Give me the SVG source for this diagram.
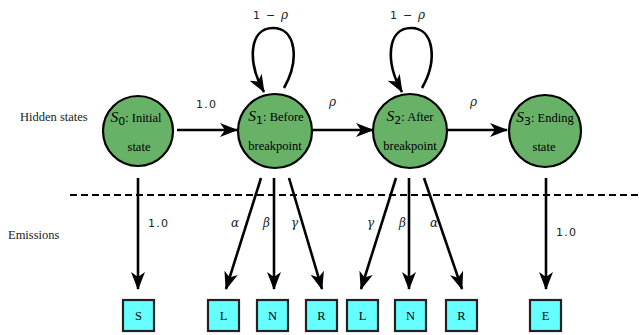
<svg xmlns="http://www.w3.org/2000/svg" width="639" height="335" viewBox="0 0 639 335">
<style>
.state{fill:#67b267;stroke:#000;stroke-width:2.2}
.emit{fill:#66ffff;stroke:#222;stroke-width:2.2}
.edge{fill:none;stroke:#000;stroke-width:2.6}
text{font-family:'Liberation Serif','Times New Roman',Times,serif}
.t{font-size:12.5px;fill:#000}
.lbl{font-size:12.5px;fill:#222}
.num{font-family:'DejaVu Sans',sans-serif;font-size:11px;fill:#222;letter-spacing:1.2px}
.gk{font-family:'DejaVu Serif',serif;font-style:italic;font-size:12px;fill:#222;letter-spacing:0}
.s{font-style:italic;font-size:15.5px}
.sub{font-family:'DejaVu Sans',sans-serif;font-size:11px}
</style>
<defs>
<marker id="ah" markerUnits="userSpaceOnUse" markerWidth="18" markerHeight="14" viewBox="0 0 18 14" refX="17" refY="7" orient="auto">
<path d="M0,0 L18,7 L0,14 L5,7 z" fill="#000"/>
</marker>
</defs>
<rect width="639" height="335" fill="#fff"/>
<text class="lbl" x="20" y="121">Hidden states</text>
<text class="lbl" x="8" y="239">Emissions</text>
<line x1="70" y1="195" x2="639" y2="195" stroke="#000" stroke-width="2" stroke-dasharray="7,4"/>
<g id="connectors">
<line class="edge" x1="177" y1="130" x2="237" y2="130" marker-end="url(#ah)"/>
<line class="edge" x1="313" y1="130" x2="373" y2="130" marker-end="url(#ah)"/>
<line class="edge" x1="448" y1="130" x2="507" y2="130" marker-end="url(#ah)"/>
<path class="edge" d="M284,88 C300,60 296,28 273,28 C249,28 247,62 264,92" marker-end="url(#ah)"/>
<path class="edge" d="M422,88 C438,60 434,28 411,28 C387,28 385,62 402,92" marker-end="url(#ah)"/>
<line class="edge" x1="138" y1="178" x2="138" y2="289" marker-end="url(#ah)"/>
<line class="edge" x1="261" y1="178" x2="226" y2="289" marker-end="url(#ah)"/>
<line class="edge" x1="274" y1="178" x2="274" y2="289" marker-end="url(#ah)"/>
<line class="edge" x1="289" y1="178" x2="322" y2="289" marker-end="url(#ah)"/>
<line class="edge" x1="396" y1="178" x2="361" y2="289" marker-end="url(#ah)"/>
<line class="edge" x1="409" y1="178" x2="409" y2="289" marker-end="url(#ah)"/>
<line class="edge" x1="424" y1="178" x2="462" y2="289" marker-end="url(#ah)"/>
<line class="edge" x1="546" y1="178" x2="546" y2="289" marker-end="url(#ah)"/>
<text class="num" x="196" y="108">1.0</text>
<text class="gk" x="329" y="106">ρ</text>
<text class="gk" x="470" y="106">ρ</text>
<text class="num" x="253" y="19">1 − <tspan class="gk">ρ</tspan></text>
<text class="num" x="390" y="19">1 − <tspan class="gk">ρ</tspan></text>
<text class="num" x="148" y="227">1.0</text>
<text class="num" x="556" y="236">1.0</text>
<text class="gk" x="231" y="227">α</text>
<text class="gk" x="263" y="227">β</text>
<text class="gk" x="291" y="227">γ</text>
<text class="gk" x="367" y="227">γ</text>
<text class="gk" x="399" y="227">β</text>
<text class="gk" x="430" y="227">α</text>
</g>
<g id="S0">
<circle class="state" cx="138" cy="131" r="35"/>
<text class="t" x="136" y="122" text-anchor="middle"><tspan class="s">S</tspan><tspan class="sub" dy="3">0</tspan><tspan dy="-3">: Initial</tspan></text>
<text class="t" x="139" y="151" text-anchor="middle">state</text>
</g>
<g id="S1">
<circle class="state" cx="275" cy="131" r="37"/>
<text class="t" x="276" y="121" text-anchor="middle"><tspan class="s">S</tspan><tspan class="sub" dy="3">1</tspan><tspan dy="-3">: Before</tspan></text>
<text class="t" x="275" y="150" text-anchor="middle">breakpoint</text>
</g>
<g id="S2">
<circle class="state" cx="410" cy="131" r="37"/>
<text class="t" x="410" y="121" text-anchor="middle"><tspan class="s">S</tspan><tspan class="sub" dy="3">2</tspan><tspan dy="-3">: After</tspan></text>
<text class="t" x="410" y="150" text-anchor="middle">breakpoint</text>
</g>
<g id="S3">
<circle class="state" cx="545" cy="131" r="36"/>
<text class="t" x="545" y="122" text-anchor="middle"><tspan class="s">S</tspan><tspan class="sub" dy="3">3</tspan><tspan dy="-3">: Ending</tspan></text>
<text class="t" x="544" y="151" text-anchor="middle">state</text>
</g>
<g id="E_S"><rect class="emit" x="123" y="300" width="31" height="31"/><text class="t" x="138.5" y="320" text-anchor="middle">S</text></g>
<g id="E_L1"><rect class="emit" x="208" y="300" width="31" height="31"/><text class="t" x="223.5" y="320" text-anchor="middle">L</text></g>
<g id="E_N1"><rect class="emit" x="257" y="300" width="31" height="31"/><text class="t" x="272.5" y="320" text-anchor="middle">N</text></g>
<g id="E_R1"><rect class="emit" x="306" y="300" width="31" height="31"/><text class="t" x="321.5" y="320" text-anchor="middle">R</text></g>
<g id="E_L2"><rect class="emit" x="347" y="300" width="31" height="31"/><text class="t" x="362.5" y="320" text-anchor="middle">L</text></g>
<g id="E_N2"><rect class="emit" x="395" y="300" width="31" height="31"/><text class="t" x="410.5" y="320" text-anchor="middle">N</text></g>
<g id="E_R2"><rect class="emit" x="446" y="300" width="31" height="31"/><text class="t" x="461.5" y="320" text-anchor="middle">R</text></g>
<g id="E_E"><rect class="emit" x="530" y="300" width="31" height="31"/><text class="t" x="545.5" y="320" text-anchor="middle">E</text></g>
</svg>
